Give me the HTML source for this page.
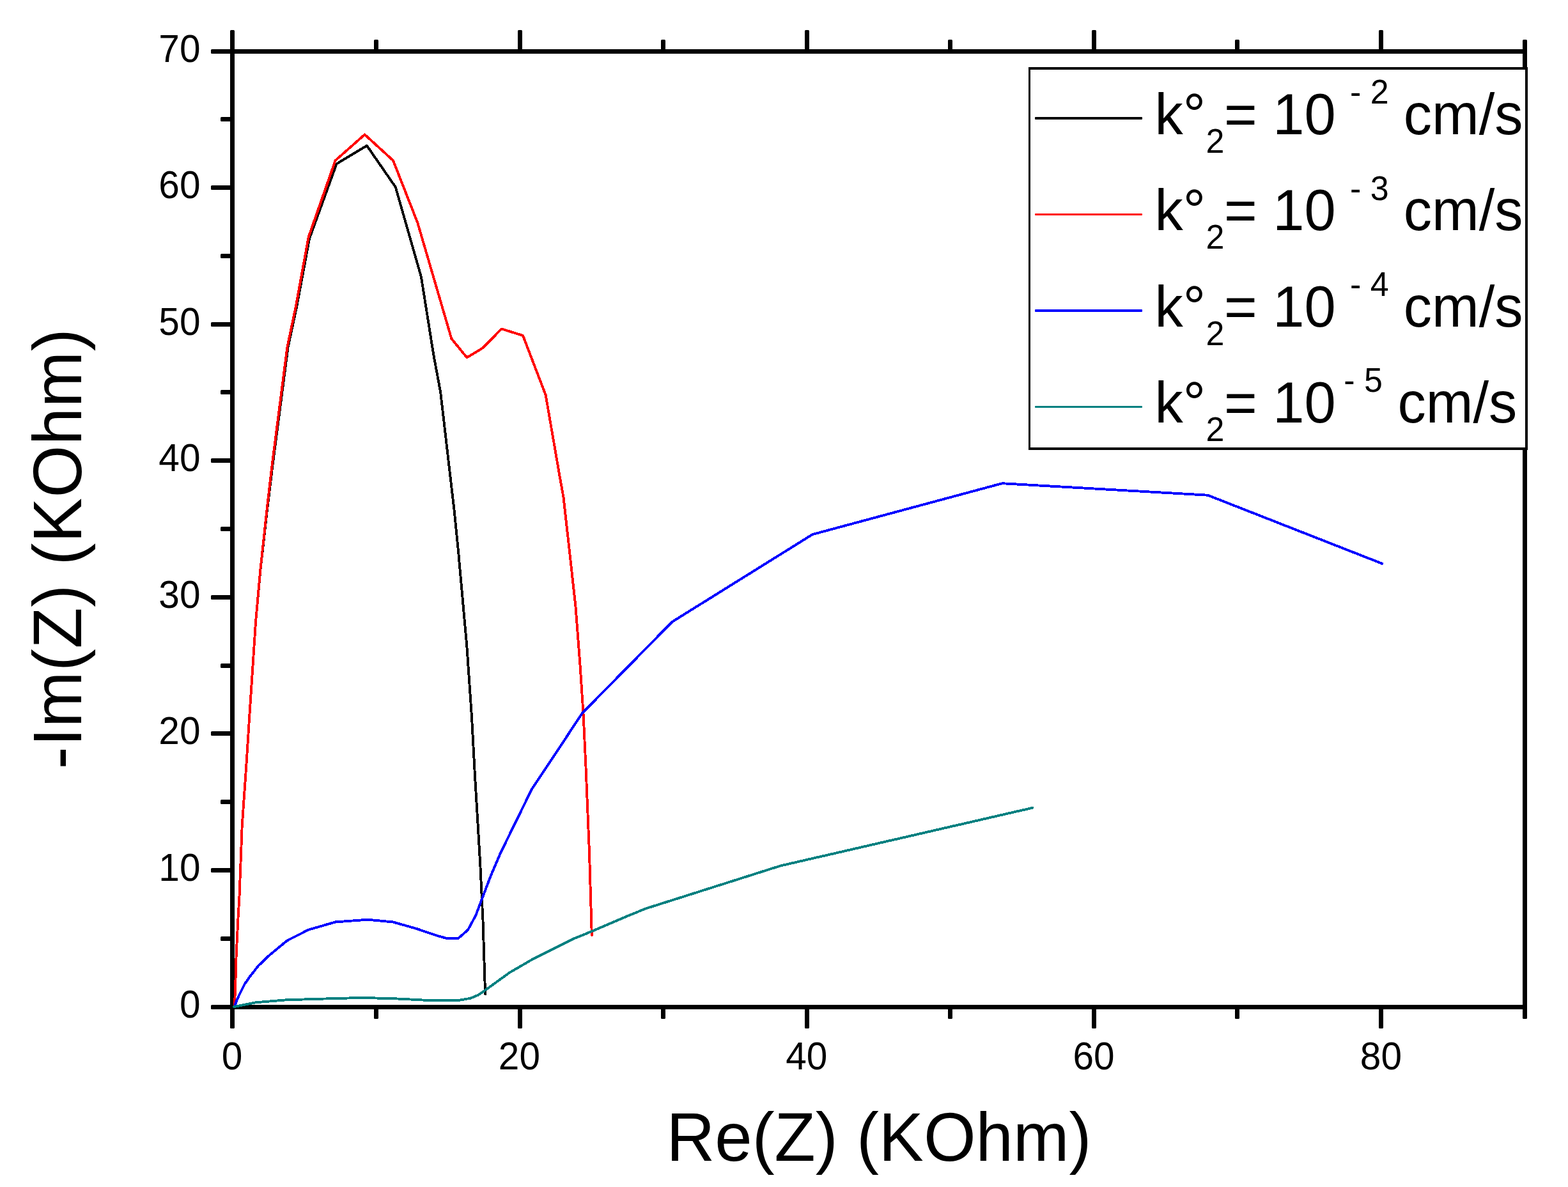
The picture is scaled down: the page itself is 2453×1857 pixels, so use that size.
<!DOCTYPE html>
<html lang="en"><head><meta charset="utf-8"><title>Nyquist plot: -Im(Z) vs Re(Z)</title>
<style>html,body{margin:0;padding:0;background:#fff}body{width:2453px;height:1857px;overflow:hidden}svg{display:block}text{font-family:"Liberation Sans",Arial,Helvetica,sans-serif;fill:#000}</style>
</head><body>
<svg width="2453" height="1857" viewBox="0 0 2453 1857">
<rect x="0" y="0" width="2453" height="1857" fill="#fff"/>
<g fill="#000" shape-rendering="crispEdges">
<rect x="360" y="77" width="7" height="1502" fill="#000"/>
<rect x="2382" y="77" width="7" height="1502" fill="#000"/>
<rect x="360" y="77" width="2029" height="7" fill="#000"/>
<rect x="360" y="1572" width="2029" height="7" fill="#000"/>
</g>
<g fill="#000">
<rect x="360" y="47" width="7" height="34" rx="1.6" fill="#000"/>
<rect x="360" y="1575" width="7" height="34" rx="1.6" fill="#000"/>
<rect x="585" y="62" width="7" height="19" rx="1.6" fill="#000"/>
<rect x="585" y="1575" width="7" height="19" rx="1.6" fill="#000"/>
<rect x="810" y="47" width="7" height="34" rx="1.6" fill="#000"/>
<rect x="810" y="1575" width="7" height="34" rx="1.6" fill="#000"/>
<rect x="1034" y="62" width="7" height="19" rx="1.6" fill="#000"/>
<rect x="1034" y="1575" width="7" height="19" rx="1.6" fill="#000"/>
<rect x="1259" y="47" width="7" height="34" rx="1.6" fill="#000"/>
<rect x="1259" y="1575" width="7" height="34" rx="1.6" fill="#000"/>
<rect x="1483" y="62" width="7" height="19" rx="1.6" fill="#000"/>
<rect x="1483" y="1575" width="7" height="19" rx="1.6" fill="#000"/>
<rect x="1708" y="47" width="7" height="34" rx="1.6" fill="#000"/>
<rect x="1708" y="1575" width="7" height="34" rx="1.6" fill="#000"/>
<rect x="1932" y="62" width="7" height="19" rx="1.6" fill="#000"/>
<rect x="1932" y="1575" width="7" height="19" rx="1.6" fill="#000"/>
<rect x="2157" y="47" width="7" height="34" rx="1.6" fill="#000"/>
<rect x="2157" y="1575" width="7" height="34" rx="1.6" fill="#000"/>
<rect x="2382" y="62" width="7" height="19" rx="1.6" fill="#000"/>
<rect x="2382" y="1575" width="7" height="19" rx="1.6" fill="#000"/>
<rect x="330" y="1572" width="34" height="7" rx="1.6" fill="#000"/>
<rect x="345" y="1465" width="19" height="7" rx="1.6" fill="#000"/>
<rect x="330" y="1358" width="34" height="7" rx="1.6" fill="#000"/>
<rect x="345" y="1251" width="19" height="7" rx="1.6" fill="#000"/>
<rect x="330" y="1144" width="34" height="7" rx="1.6" fill="#000"/>
<rect x="345" y="1038" width="19" height="7" rx="1.6" fill="#000"/>
<rect x="330" y="931" width="34" height="7" rx="1.6" fill="#000"/>
<rect x="345" y="824" width="19" height="7" rx="1.6" fill="#000"/>
<rect x="330" y="717" width="34" height="7" rx="1.6" fill="#000"/>
<rect x="345" y="610" width="19" height="7" rx="1.6" fill="#000"/>
<rect x="330" y="504" width="34" height="7" rx="1.6" fill="#000"/>
<rect x="345" y="397" width="19" height="7" rx="1.6" fill="#000"/>
<rect x="330" y="290" width="34" height="7" rx="1.6" fill="#000"/>
<rect x="345" y="183" width="19" height="7" rx="1.6" fill="#000"/>
<rect x="330" y="77" width="34" height="7" rx="1.6" fill="#000"/>
</g>
<g shape-rendering="crispEdges">
<polyline fill="none" stroke="#000" stroke-width="3.90" stroke-linejoin="round" stroke-linecap="round" points="367.0,1572.0 368.1,1545.0 369.6,1495.0 372.3,1440.0 374.6,1400.0 378.7,1292.0 385.4,1196.4 390.3,1120.0 400.1,972.0 407.4,891.7 417.7,800.0 426.4,728.4 450.6,543.0 464.1,480.0 484.1,373.0 526.5,256.4 573.9,227.8 618.8,292.7 658.9,433.2 678.2,554.7 689.2,613.8 703.8,740.0 710.8,800.0 717.2,864.2 721.7,914.7 730.3,1010.2 737.9,1120.0 742.9,1212.0 748.2,1300.0 751.4,1355.0 755.5,1440.0 759.1,1555.1"/>
<polyline fill="none" stroke="#f00" stroke-width="3.90" stroke-linejoin="round" stroke-linecap="round" points="367.0,1572.0 368.1,1545.0 369.6,1495.0 372.3,1440.0 374.6,1400.0 378.7,1292.0 385.4,1196.4 390.3,1120.0 400.1,972.0 407.3,891.7 417.2,800.0 425.5,728.4 449.4,543.0 462.7,480.0 482.6,371.1 524.6,251.1 570.6,210.5 615.0,251.1 653.2,348.2 706.3,529.8 730.4,559.4 754.7,544.7 784.7,514.5 818.1,525.0 853.6,617.7 874.7,740.0 881.5,778.0 891.1,864.0 900.6,950.0 907.5,1040.0 912.5,1116.0 916.5,1200.0 922.0,1334.0 925.8,1462.8"/>
<polyline fill="none" stroke="#00f" stroke-width="3.90" stroke-linejoin="round" stroke-linecap="round" points="367.6,1573.0 370.8,1563.8 376.0,1552.9 382.5,1540.0 389.6,1529.5 403.7,1511.5 419.0,1496.5 449.0,1471.6 482.8,1454.5 524.9,1442.4 568.8,1439.2 579.0,1439.1 614.5,1442.4 651.7,1452.9 682.3,1463.4 699.5,1468.2 716.7,1468.2 732.0,1454.8 744.4,1431.9 753.0,1408.9 768.3,1368.8 783.1,1334.3 831.8,1234.9 911.1,1115.5 1051.6,972.8 1271.0,836.1 1567.8,756.2 1889.4,774.7 2162.1,881.7"/>
<polyline fill="none" stroke="#008080" stroke-width="3.90" stroke-linejoin="round" stroke-linecap="round" points="366.3,1575.0 400.7,1568.2 448.4,1564.3 524.9,1562.0 568.8,1560.9 598.2,1561.8 620.0,1562.4 665.1,1564.7 718.6,1564.7 735.8,1561.8 747.3,1557.0 758.7,1549.4 797.0,1521.7 833.3,1500.6 896.3,1469.1 925.6,1457.1 980.0,1433.8 1010.0,1421.5 1221.0,1354.5 1615.3,1263.8"/>
</g>
<g>
<text transform="translate(363.10 1672.80) scale(1 1.0350)" font-size="58.60" text-anchor="middle">0</text>
<text transform="translate(812.43 1672.80) scale(1 1.0350)" font-size="58.60" text-anchor="middle">20</text>
<text transform="translate(1261.77 1672.80) scale(1 1.0350)" font-size="58.60" text-anchor="middle">40</text>
<text transform="translate(1711.10 1672.80) scale(1 1.0350)" font-size="58.60" text-anchor="middle">60</text>
<text transform="translate(2160.43 1672.80) scale(1 1.0350)" font-size="58.60" text-anchor="middle">80</text>
<text transform="translate(313.50 1592.40) scale(1 1.0350)" font-size="58.60" text-anchor="end">0</text>
<text transform="translate(313.50 1378.40) scale(1 1.0350)" font-size="58.60" text-anchor="end">10</text>
<text transform="translate(313.50 1164.40) scale(1 1.0350)" font-size="58.60" text-anchor="end">20</text>
<text transform="translate(313.50 951.40) scale(1 1.0350)" font-size="58.60" text-anchor="end">30</text>
<text transform="translate(313.50 737.40) scale(1 1.0350)" font-size="58.60" text-anchor="end">40</text>
<text transform="translate(313.50 524.40) scale(1 1.0350)" font-size="58.60" text-anchor="end">50</text>
<text transform="translate(313.50 310.40) scale(1 1.0350)" font-size="58.60" text-anchor="end">60</text>
<text transform="translate(313.50 97.40) scale(1 1.0350)" font-size="58.60" text-anchor="end">70</text>
</g>
<text transform="translate(1374.90 1816.30) scale(1 1.0220)" font-size="105.00" text-anchor="middle">Re(Z) (KOhm)</text>
<text transform="translate(126.8 1203.2) rotate(-90) scale(1 1.0220)" font-size="105.00" letter-spacing="0.55">-Im(Z) (KOhm)</text>
<g shape-rendering="crispEdges">
<rect x="1609" y="105" width="781" height="599" fill="#000"/>
<rect x="1612" y="109" width="774" height="591" fill="#fff"/>
</g>
<rect x="1619" y="183" width="168" height="4" rx="1" fill="#000"/>
<text transform="translate(0 210.00) scale(1 1.0220)" font-size="88.50"><tspan x="1806.6" y="0">k°</tspan><tspan x="1886.5" y="28.38" font-size="52.00">2</tspan><tspan x="1915" y="0">= 10 </tspan><tspan x="2112.0" y="-46.77" font-size="52.00">- 2</tspan><tspan x="2171.2" y="0"> cm/s</tspan></text>
<rect x="1619" y="334" width="168" height="3" rx="1" fill="#f00"/>
<text transform="translate(0 360.30) scale(1 1.0220)" font-size="88.50"><tspan x="1806.6" y="0">k°</tspan><tspan x="1886.5" y="28.38" font-size="52.00">2</tspan><tspan x="1915" y="0">= 10 </tspan><tspan x="2112.0" y="-46.77" font-size="52.00">- 3</tspan><tspan x="2171.2" y="0"> cm/s</tspan></text>
<rect x="1619" y="484" width="168" height="4" rx="1" fill="#00f"/>
<text transform="translate(0 510.60) scale(1 1.0220)" font-size="88.50"><tspan x="1806.6" y="0">k°</tspan><tspan x="1886.5" y="28.38" font-size="52.00">2</tspan><tspan x="1915" y="0">= 10 </tspan><tspan x="2112.0" y="-46.77" font-size="52.00">- 4</tspan><tspan x="2171.2" y="0"> cm/s</tspan></text>
<rect x="1619" y="635" width="168" height="3" rx="1" fill="#008080"/>
<text transform="translate(0 660.90) scale(1 1.0220)" font-size="88.50"><tspan x="1806.6" y="0">k°</tspan><tspan x="1886.5" y="28.38" font-size="52.00">2</tspan><tspan x="1915" y="0">= 10 </tspan><tspan x="2102.2" y="-46.77" font-size="52.00">- 5</tspan><tspan x="2162.0" y="0"> cm/s</tspan></text>
</svg></body></html>
